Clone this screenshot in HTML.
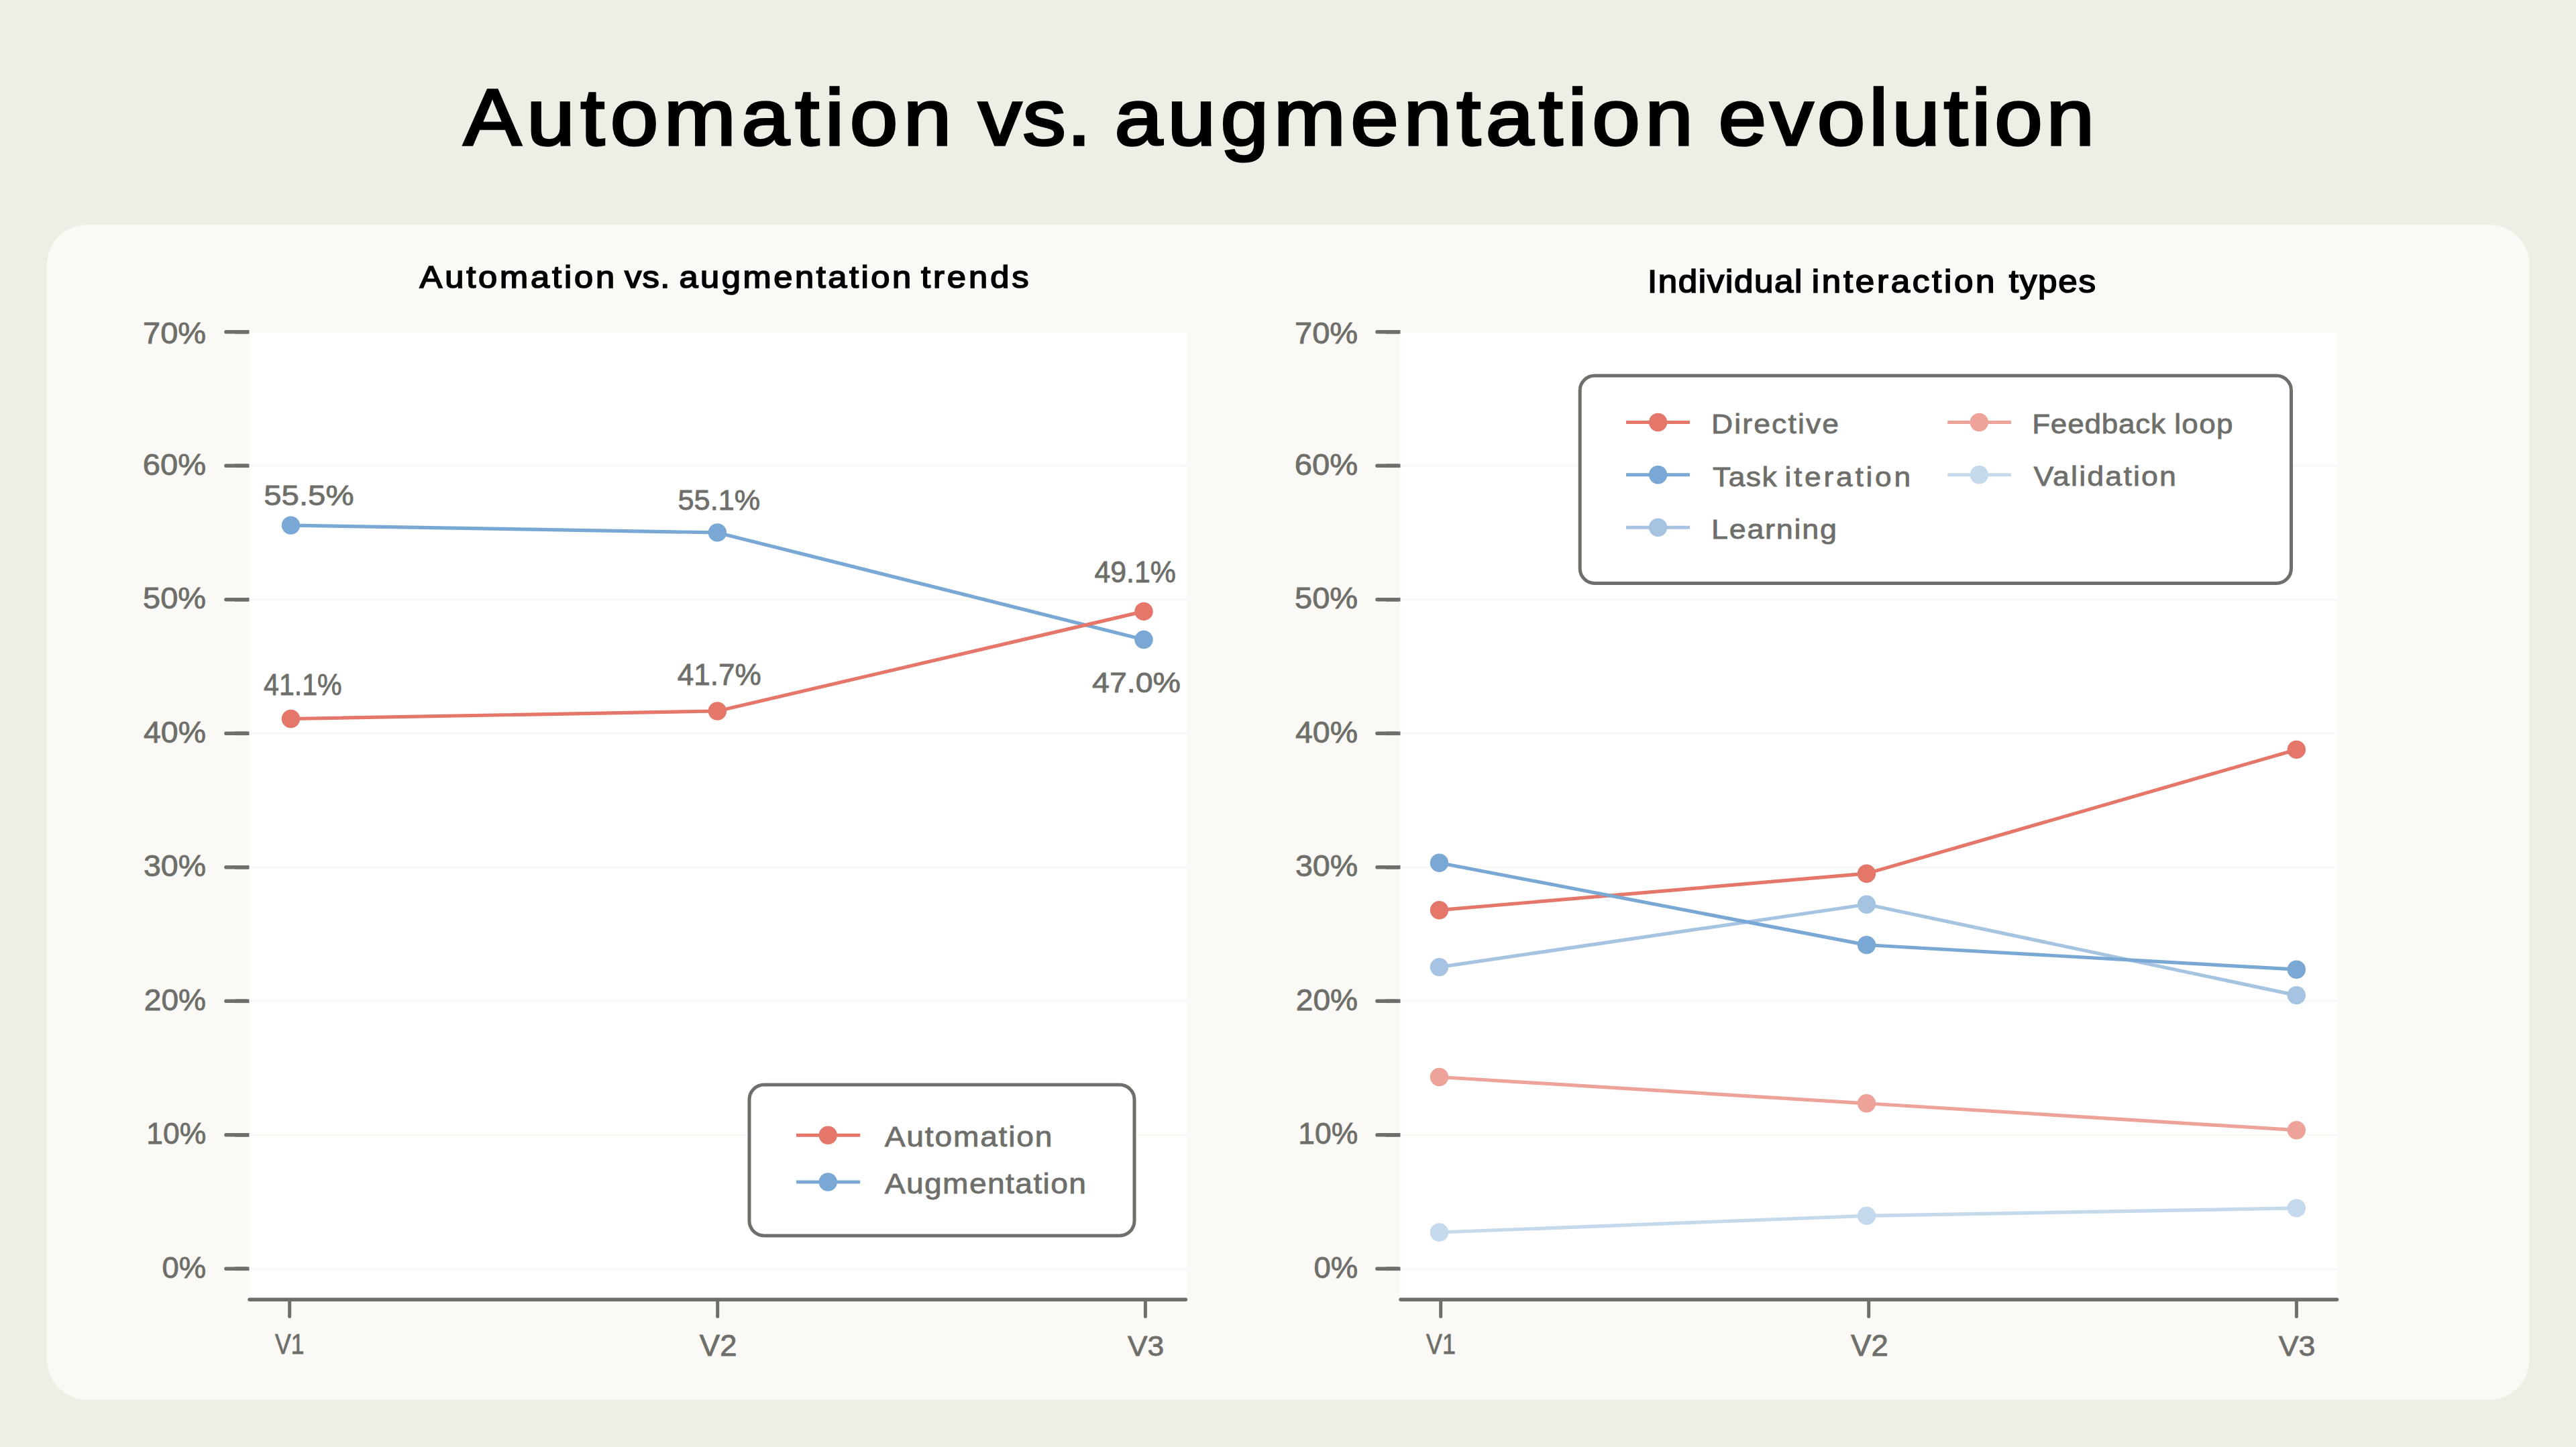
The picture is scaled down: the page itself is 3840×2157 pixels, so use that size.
<!DOCTYPE html><html><head><meta charset="utf-8"><style>html,body{margin:0;padding:0;background:#EEEDE6;width:3840px;height:2157px;overflow:hidden}svg{display:block}text{font-family:"Liberation Sans",sans-serif;font-weight:400}</style></head><body>
<svg width="3840" height="2157" viewBox="0 0 3840 2157">
<rect x="70" y="335" width="3700.5" height="1751.5" rx="60" ry="60" fill="#FAF9F5"/>
<rect x="372" y="496" width="1397" height="1438" fill="#FFFFFF"/>
<line x1="372" y1="694.3" x2="1769" y2="694.3" stroke="#F9F8F4" stroke-width="3.2"/>
<line x1="372" y1="893.8" x2="1769" y2="893.8" stroke="#F9F8F4" stroke-width="3.2"/>
<line x1="372" y1="1093.3" x2="1769" y2="1093.3" stroke="#F9F8F4" stroke-width="3.2"/>
<line x1="372" y1="1292.8" x2="1769" y2="1292.8" stroke="#F9F8F4" stroke-width="3.2"/>
<line x1="372" y1="1492.3" x2="1769" y2="1492.3" stroke="#F9F8F4" stroke-width="3.2"/>
<line x1="372" y1="1691.8" x2="1769" y2="1691.8" stroke="#F9F8F4" stroke-width="3.2"/>
<line x1="372" y1="1891.3" x2="1769" y2="1891.3" stroke="#F9F8F4" stroke-width="3.2"/>
<rect x="2087.0" y="496" width="1397" height="1438" fill="#FFFFFF"/>
<line x1="2087.0" y1="694.3" x2="3484.0" y2="694.3" stroke="#F9F8F4" stroke-width="3.2"/>
<line x1="2087.0" y1="893.8" x2="3484.0" y2="893.8" stroke="#F9F8F4" stroke-width="3.2"/>
<line x1="2087.0" y1="1093.3" x2="3484.0" y2="1093.3" stroke="#F9F8F4" stroke-width="3.2"/>
<line x1="2087.0" y1="1292.8" x2="3484.0" y2="1292.8" stroke="#F9F8F4" stroke-width="3.2"/>
<line x1="2087.0" y1="1492.3" x2="3484.0" y2="1492.3" stroke="#F9F8F4" stroke-width="3.2"/>
<line x1="2087.0" y1="1691.8" x2="3484.0" y2="1691.8" stroke="#F9F8F4" stroke-width="3.2"/>
<line x1="2087.0" y1="1891.3" x2="3484.0" y2="1891.3" stroke="#F9F8F4" stroke-width="3.2"/>
<line x1="337" y1="494.8" x2="368" y2="494.8" stroke="#6E6E6A" stroke-width="5.6" stroke-linecap="round"/>
<line x1="350" y1="494.8" x2="371.5" y2="494.8" stroke="#6E6E6A" stroke-width="5.6"/>
<line x1="337" y1="694.3" x2="368" y2="694.3" stroke="#6E6E6A" stroke-width="5.6" stroke-linecap="round"/>
<line x1="350" y1="694.3" x2="371.5" y2="694.3" stroke="#6E6E6A" stroke-width="5.6"/>
<line x1="337" y1="893.8" x2="368" y2="893.8" stroke="#6E6E6A" stroke-width="5.6" stroke-linecap="round"/>
<line x1="350" y1="893.8" x2="371.5" y2="893.8" stroke="#6E6E6A" stroke-width="5.6"/>
<line x1="337" y1="1093.3" x2="368" y2="1093.3" stroke="#6E6E6A" stroke-width="5.6" stroke-linecap="round"/>
<line x1="350" y1="1093.3" x2="371.5" y2="1093.3" stroke="#6E6E6A" stroke-width="5.6"/>
<line x1="337" y1="1292.8" x2="368" y2="1292.8" stroke="#6E6E6A" stroke-width="5.6" stroke-linecap="round"/>
<line x1="350" y1="1292.8" x2="371.5" y2="1292.8" stroke="#6E6E6A" stroke-width="5.6"/>
<line x1="337" y1="1492.3" x2="368" y2="1492.3" stroke="#6E6E6A" stroke-width="5.6" stroke-linecap="round"/>
<line x1="350" y1="1492.3" x2="371.5" y2="1492.3" stroke="#6E6E6A" stroke-width="5.6"/>
<line x1="337" y1="1691.8" x2="368" y2="1691.8" stroke="#6E6E6A" stroke-width="5.6" stroke-linecap="round"/>
<line x1="350" y1="1691.8" x2="371.5" y2="1691.8" stroke="#6E6E6A" stroke-width="5.6"/>
<line x1="337" y1="1891.3" x2="368" y2="1891.3" stroke="#6E6E6A" stroke-width="5.6" stroke-linecap="round"/>
<line x1="350" y1="1891.3" x2="371.5" y2="1891.3" stroke="#6E6E6A" stroke-width="5.6"/>
<line x1="372" y1="1937.2" x2="1767.5" y2="1937.2" stroke="#6E6E6A" stroke-width="5.4" stroke-linecap="round"/>
<line x1="431.7" y1="1940" x2="431.7" y2="1962.5" stroke="#6E6E6A" stroke-width="5" stroke-linecap="round"/>
<line x1="1069.7" y1="1940" x2="1069.7" y2="1962.5" stroke="#6E6E6A" stroke-width="5" stroke-linecap="round"/>
<line x1="1707.4" y1="1940" x2="1707.4" y2="1962.5" stroke="#6E6E6A" stroke-width="5" stroke-linecap="round"/>
<line x1="2053.0" y1="494.8" x2="2084.0" y2="494.8" stroke="#6E6E6A" stroke-width="5.6" stroke-linecap="round"/>
<line x1="2066.0" y1="494.8" x2="2087.5" y2="494.8" stroke="#6E6E6A" stroke-width="5.6"/>
<line x1="2053.0" y1="694.3" x2="2084.0" y2="694.3" stroke="#6E6E6A" stroke-width="5.6" stroke-linecap="round"/>
<line x1="2066.0" y1="694.3" x2="2087.5" y2="694.3" stroke="#6E6E6A" stroke-width="5.6"/>
<line x1="2053.0" y1="893.8" x2="2084.0" y2="893.8" stroke="#6E6E6A" stroke-width="5.6" stroke-linecap="round"/>
<line x1="2066.0" y1="893.8" x2="2087.5" y2="893.8" stroke="#6E6E6A" stroke-width="5.6"/>
<line x1="2053.0" y1="1093.3" x2="2084.0" y2="1093.3" stroke="#6E6E6A" stroke-width="5.6" stroke-linecap="round"/>
<line x1="2066.0" y1="1093.3" x2="2087.5" y2="1093.3" stroke="#6E6E6A" stroke-width="5.6"/>
<line x1="2053.0" y1="1292.8" x2="2084.0" y2="1292.8" stroke="#6E6E6A" stroke-width="5.6" stroke-linecap="round"/>
<line x1="2066.0" y1="1292.8" x2="2087.5" y2="1292.8" stroke="#6E6E6A" stroke-width="5.6"/>
<line x1="2053.0" y1="1492.3" x2="2084.0" y2="1492.3" stroke="#6E6E6A" stroke-width="5.6" stroke-linecap="round"/>
<line x1="2066.0" y1="1492.3" x2="2087.5" y2="1492.3" stroke="#6E6E6A" stroke-width="5.6"/>
<line x1="2053.0" y1="1691.8" x2="2084.0" y2="1691.8" stroke="#6E6E6A" stroke-width="5.6" stroke-linecap="round"/>
<line x1="2066.0" y1="1691.8" x2="2087.5" y2="1691.8" stroke="#6E6E6A" stroke-width="5.6"/>
<line x1="2053.0" y1="1891.3" x2="2084.0" y2="1891.3" stroke="#6E6E6A" stroke-width="5.6" stroke-linecap="round"/>
<line x1="2066.0" y1="1891.3" x2="2087.5" y2="1891.3" stroke="#6E6E6A" stroke-width="5.6"/>
<line x1="2088.0" y1="1937.2" x2="3483.5" y2="1937.2" stroke="#6E6E6A" stroke-width="5.4" stroke-linecap="round"/>
<line x1="2147.7" y1="1940" x2="2147.7" y2="1962.5" stroke="#6E6E6A" stroke-width="5" stroke-linecap="round"/>
<line x1="2785.7" y1="1940" x2="2785.7" y2="1962.5" stroke="#6E6E6A" stroke-width="5" stroke-linecap="round"/>
<line x1="3423.4" y1="1940" x2="3423.4" y2="1962.5" stroke="#6E6E6A" stroke-width="5" stroke-linecap="round"/>
<polyline points="433.5,783.1 1069.4,793.9 1705.0,953.5" fill="none" stroke="#7AA8D5" stroke-width="5.2" stroke-linejoin="round"/><circle cx="433.5" cy="783.1" r="13.7" fill="#7AA8D5"/><circle cx="1069.4" cy="793.9" r="13.7" fill="#7AA8D5"/><circle cx="1705.0" cy="953.5" r="13.7" fill="#7AA8D5"/>
<polyline points="433.5,1071.5 1069.4,1060.0 1705.0,911.4" fill="none" stroke="#E5766A" stroke-width="5.2" stroke-linejoin="round"/><circle cx="433.5" cy="1071.5" r="13.7" fill="#E5766A"/><circle cx="1069.4" cy="1060.0" r="13.7" fill="#E5766A"/><circle cx="1705.0" cy="911.4" r="13.7" fill="#E5766A"/>
<polyline points="2145.5,1356.7 2782.5,1302.2 3423.3,1117.4" fill="none" stroke="#E5766A" stroke-width="5.2" stroke-linejoin="round"/><circle cx="2145.5" cy="1356.7" r="13.7" fill="#E5766A"/><circle cx="2782.5" cy="1302.2" r="13.7" fill="#E5766A"/><circle cx="3423.3" cy="1117.4" r="13.7" fill="#E5766A"/>
<polyline points="2145.5,1605.5 2782.5,1644.8 3423.3,1684.7" fill="none" stroke="#EDA39A" stroke-width="5.2" stroke-linejoin="round"/><circle cx="2145.5" cy="1605.5" r="13.7" fill="#EDA39A"/><circle cx="2782.5" cy="1644.8" r="13.7" fill="#EDA39A"/><circle cx="3423.3" cy="1684.7" r="13.7" fill="#EDA39A"/>
<polyline points="2145.5,1441.6 2782.5,1348.2 3423.3,1483.6" fill="none" stroke="#A6C4E2" stroke-width="5.2" stroke-linejoin="round"/><circle cx="2145.5" cy="1441.6" r="13.7" fill="#A6C4E2"/><circle cx="2782.5" cy="1348.2" r="13.7" fill="#A6C4E2"/><circle cx="3423.3" cy="1483.6" r="13.7" fill="#A6C4E2"/>
<polyline points="2145.5,1837.0 2782.5,1812.4 3423.3,1800.9" fill="none" stroke="#C4D9EC" stroke-width="5.2" stroke-linejoin="round"/><circle cx="2145.5" cy="1837.0" r="13.7" fill="#C4D9EC"/><circle cx="2782.5" cy="1812.4" r="13.7" fill="#C4D9EC"/><circle cx="3423.3" cy="1800.9" r="13.7" fill="#C4D9EC"/>
<polyline points="2145.5,1286.2 2782.5,1408.6 3423.3,1445.2" fill="none" stroke="#7AA8D5" stroke-width="5.2" stroke-linejoin="round"/><circle cx="2145.5" cy="1286.2" r="13.7" fill="#7AA8D5"/><circle cx="2782.5" cy="1408.6" r="13.7" fill="#7AA8D5"/><circle cx="3423.3" cy="1445.2" r="13.7" fill="#7AA8D5"/>
<rect x="1117" y="1617" width="574" height="225" rx="22" ry="22" fill="#FFFFFF" stroke="#6E6E6A" stroke-width="5"/>
<rect x="2355.2" y="560" width="1060.3" height="309.5" rx="22" ry="22" fill="#FFFFFF" stroke="#6E6E6A" stroke-width="5"/>
<line x1="1187" y1="1692.2" x2="1282.2" y2="1692.2" stroke="#E5766A" stroke-width="5"/><circle cx="1234.3" cy="1692.2" r="13.7" fill="#E5766A"/>
<line x1="1187" y1="1762.0" x2="1282.2" y2="1762.0" stroke="#7AA8D5" stroke-width="5"/><circle cx="1234.3" cy="1762.0" r="13.7" fill="#7AA8D5"/>
<line x1="2424" y1="629.5" x2="2519" y2="629.5" stroke="#E5766A" stroke-width="5"/><circle cx="2471.6" cy="629.5" r="13.7" fill="#E5766A"/>
<line x1="2424" y1="707.7" x2="2519" y2="707.7" stroke="#7AA8D5" stroke-width="5"/><circle cx="2471.6" cy="707.7" r="13.7" fill="#7AA8D5"/>
<line x1="2424" y1="786.2" x2="2519" y2="786.2" stroke="#A6C4E2" stroke-width="5"/><circle cx="2471.6" cy="786.2" r="13.7" fill="#A6C4E2"/>
<line x1="2903.2" y1="629.5" x2="2997.9" y2="629.5" stroke="#EDA39A" stroke-width="5"/><circle cx="2950.3" cy="629.5" r="13.7" fill="#EDA39A"/>
<line x1="2903.2" y1="707.7" x2="2997.9" y2="707.7" stroke="#C4D9EC" stroke-width="5"/><circle cx="2950.3" cy="707.7" r="13.7" fill="#C4D9EC"/>
<g transform="matrix(1.08,0,0,1,-55.28,0)"><text x="691.00" y="216.00" font-size="119.14" fill="#000000" stroke="#000000" stroke-width="3.6" textLength="673.53" lengthAdjust="spacing">Automation</text></g>
<g transform="matrix(1.08,0,0,1,-116.69,0)"><text x="1458.60" y="216.00" font-size="119.14" fill="#000000" stroke="#000000" stroke-width="3.6" textLength="155.23" lengthAdjust="spacing">vs.</text></g>
<g transform="matrix(1.08,0,0,1,-132.91,0)"><text x="1661.40" y="216.00" font-size="119.14" fill="#000000" stroke="#000000" stroke-width="3.6" textLength="798.61" lengthAdjust="spacing">augmentation</text></g>
<g transform="matrix(1.08,0,0,1,-204.93,0)"><text x="2561.60" y="216.00" font-size="119.14" fill="#000000" stroke="#000000" stroke-width="3.6" textLength="519.03" lengthAdjust="spacing">evolution</text></g>
<g transform="matrix(1.08,0,0,1,-50.05,0)"><text x="625.60" y="429.20" font-size="46.91" fill="#000000" stroke="#000000" stroke-width="1.7" textLength="269.08" lengthAdjust="spacing">Automation</text></g>
<g transform="matrix(1.08,0,0,1,-74.48,0)"><text x="931.00" y="429.20" font-size="46.91" fill="#000000" stroke="#000000" stroke-width="1.7" textLength="62.29" lengthAdjust="spacing">vs.</text></g>
<g transform="matrix(1.08,0,0,1,-80.99,0)"><text x="1012.40" y="429.20" font-size="46.91" fill="#000000" stroke="#000000" stroke-width="1.7" textLength="320.22" lengthAdjust="spacing">augmentation</text></g>
<g transform="matrix(1.08,0,0,1,-109.84,0)"><text x="1373.00" y="429.20" font-size="46.91" fill="#000000" stroke="#000000" stroke-width="1.7" textLength="148.71" lengthAdjust="spacing">trends</text></g>
<g transform="matrix(1.08,0,0,1,-196.48,0)"><text x="2456.00" y="436.00" font-size="47.31" fill="#000000" stroke="#000000" stroke-width="1.7" textLength="213.29" lengthAdjust="spacing">Individual</text></g>
<g transform="matrix(1.08,0,0,1,-216.06,0)"><text x="2700.80" y="436.00" font-size="47.31" fill="#000000" stroke="#000000" stroke-width="1.7" textLength="252.48" lengthAdjust="spacing">interaction</text></g>
<g transform="matrix(1.08,0,0,1,-239.58,0)"><text x="2994.80" y="436.00" font-size="47.31" fill="#000000" stroke="#000000" stroke-width="1.7" textLength="119.63" lengthAdjust="spacing">types</text></g>
<g transform="matrix(1.08,0,0,1,-105.50,0)"><text x="1318.80" y="1709.50" font-size="42.76" fill="#6E6E6A" stroke="#6E6E6A" stroke-width="0.8" textLength="231.12" lengthAdjust="spacing">Automation</text></g>
<g transform="matrix(1.08,0,0,1,-105.50,0)"><text x="1318.80" y="1779.30" font-size="42.76" fill="#6E6E6A" stroke="#6E6E6A" stroke-width="0.8" textLength="277.97" lengthAdjust="spacing">Augmentation</text></g>
<g transform="matrix(1.08,0,0,1,-204.08,0)"><text x="2551.00" y="646.10" font-size="41.13" fill="#6E6E6A" stroke="#6E6E6A" stroke-width="0.8" textLength="175.98" lengthAdjust="spacing">Directive</text></g>
<g transform="matrix(1.08,0,0,1,-204.24,0)"><text x="2553.00" y="724.80" font-size="40.99" fill="#6E6E6A" stroke="#6E6E6A" stroke-width="0.8" textLength="88.52" lengthAdjust="spacing">Task</text></g>
<g transform="matrix(1.08,0,0,1,-212.83,0)"><text x="2660.40" y="724.80" font-size="40.99" fill="#6E6E6A" stroke="#6E6E6A" stroke-width="0.8" textLength="173.80" lengthAdjust="spacing">iteration</text></g>
<g transform="matrix(1.08,0,0,1,-204.08,0)"><text x="2551.00" y="803.20" font-size="41.53" fill="#6E6E6A" stroke="#6E6E6A" stroke-width="0.8" textLength="173.07" lengthAdjust="spacing">Learning</text></g>
<g transform="matrix(1.08,0,0,1,-242.34,0)"><text x="3029.20" y="645.80" font-size="40.72" fill="#6E6E6A" stroke="#6E6E6A" stroke-width="0.8" textLength="184.09" lengthAdjust="spacing">Feedback</text></g>
<g transform="matrix(1.08,0,0,1,-259.30,0)"><text x="3241.20" y="645.80" font-size="40.72" fill="#6E6E6A" stroke="#6E6E6A" stroke-width="0.8" textLength="80.82" lengthAdjust="spacing">loop</text></g>
<g transform="matrix(1.08,0,0,1,-242.51,0)"><text x="3031.40" y="724.10" font-size="41.40" fill="#6E6E6A" stroke="#6E6E6A" stroke-width="0.8" textLength="196.86" lengthAdjust="spacing">Validation</text></g>
<text x="393.20" y="753.00" font-size="43.02" fill="#6E6E6A" stroke="#6E6E6A" stroke-width="0.8" textLength="134.46" lengthAdjust="spacingAndGlyphs">55.5%</text>
<text x="1010.60" y="760.00" font-size="43.17" fill="#6E6E6A" stroke="#6E6E6A" stroke-width="0.8" textLength="122.50" lengthAdjust="spacingAndGlyphs">55.1%</text>
<text x="393.00" y="1035.80" font-size="44.04" fill="#6E6E6A" stroke="#6E6E6A" stroke-width="0.8" textLength="116.66" lengthAdjust="spacingAndGlyphs">41.1%</text>
<text x="1009.80" y="1021.40" font-size="43.90" fill="#6E6E6A" stroke="#6E6E6A" stroke-width="0.8" textLength="125.04" lengthAdjust="spacingAndGlyphs">41.7%</text>
<text x="1631.40" y="868.00" font-size="43.90" fill="#6E6E6A" stroke="#6E6E6A" stroke-width="0.8" textLength="121.44" lengthAdjust="spacingAndGlyphs">49.1%</text>
<text x="1628.00" y="1031.60" font-size="42.44" fill="#6E6E6A" stroke="#6E6E6A" stroke-width="0.8" textLength="132.01" lengthAdjust="spacingAndGlyphs">47.0%</text>
<text x="410.00" y="2018.00" font-size="42.44" fill="#6E6E6A" stroke="#6E6E6A" stroke-width="0.8" textLength="43.62" lengthAdjust="spacingAndGlyphs">V1</text>
<text x="1042.80" y="2021.30" font-size="43.60" fill="#6E6E6A" stroke="#6E6E6A" stroke-width="0.8" textLength="55.67" lengthAdjust="spacingAndGlyphs">V2</text>
<text x="1681.00" y="2021.30" font-size="43.17" fill="#6E6E6A" stroke="#6E6E6A" stroke-width="0.8" textLength="54.24" lengthAdjust="spacingAndGlyphs">V3</text>
<text x="2126.00" y="2018.00" font-size="42.44" fill="#6E6E6A" stroke="#6E6E6A" stroke-width="0.8" textLength="43.85" lengthAdjust="spacingAndGlyphs">V1</text>
<text x="2759.00" y="2021.30" font-size="43.60" fill="#6E6E6A" stroke="#6E6E6A" stroke-width="0.8" textLength="55.72" lengthAdjust="spacingAndGlyphs">V2</text>
<text x="3396.80" y="2021.30" font-size="43.17" fill="#6E6E6A" stroke="#6E6E6A" stroke-width="0.8" textLength="54.69" lengthAdjust="spacingAndGlyphs">V3</text>
<text x="213.00" y="511.80" font-size="43.60" fill="#6E6E6A" stroke="#6E6E6A" stroke-width="0.8" textLength="94.16" lengthAdjust="spacingAndGlyphs">70%</text>
<text x="212.80" y="707.80" font-size="43.60" fill="#6E6E6A" stroke="#6E6E6A" stroke-width="0.8" textLength="94.31" lengthAdjust="spacingAndGlyphs">60%</text>
<text x="213.00" y="907.30" font-size="43.60" fill="#6E6E6A" stroke="#6E6E6A" stroke-width="0.8" textLength="94.06" lengthAdjust="spacingAndGlyphs">50%</text>
<text x="214.00" y="1106.80" font-size="43.60" fill="#6E6E6A" stroke="#6E6E6A" stroke-width="0.8" textLength="93.01" lengthAdjust="spacingAndGlyphs">40%</text>
<text x="214.00" y="1306.30" font-size="43.60" fill="#6E6E6A" stroke="#6E6E6A" stroke-width="0.8" textLength="93.13" lengthAdjust="spacingAndGlyphs">30%</text>
<text x="214.80" y="1505.80" font-size="43.60" fill="#6E6E6A" stroke="#6E6E6A" stroke-width="0.8" textLength="92.28" lengthAdjust="spacingAndGlyphs">20%</text>
<text x="218.20" y="1705.30" font-size="43.60" fill="#6E6E6A" stroke="#6E6E6A" stroke-width="0.8" textLength="88.99" lengthAdjust="spacingAndGlyphs">10%</text>
<text x="241.40" y="1904.80" font-size="43.60" fill="#6E6E6A" stroke="#6E6E6A" stroke-width="0.8" textLength="65.67" lengthAdjust="spacingAndGlyphs">0%</text>
<text x="1930.00" y="511.80" font-size="43.60" fill="#6E6E6A" stroke="#6E6E6A" stroke-width="0.8" textLength="94.16" lengthAdjust="spacingAndGlyphs">70%</text>
<text x="1929.80" y="707.80" font-size="43.60" fill="#6E6E6A" stroke="#6E6E6A" stroke-width="0.8" textLength="94.31" lengthAdjust="spacingAndGlyphs">60%</text>
<text x="1930.00" y="907.30" font-size="43.60" fill="#6E6E6A" stroke="#6E6E6A" stroke-width="0.8" textLength="94.06" lengthAdjust="spacingAndGlyphs">50%</text>
<text x="1931.00" y="1106.80" font-size="43.60" fill="#6E6E6A" stroke="#6E6E6A" stroke-width="0.8" textLength="93.01" lengthAdjust="spacingAndGlyphs">40%</text>
<text x="1931.00" y="1306.30" font-size="43.60" fill="#6E6E6A" stroke="#6E6E6A" stroke-width="0.8" textLength="93.13" lengthAdjust="spacingAndGlyphs">30%</text>
<text x="1931.80" y="1505.80" font-size="43.60" fill="#6E6E6A" stroke="#6E6E6A" stroke-width="0.8" textLength="92.28" lengthAdjust="spacingAndGlyphs">20%</text>
<text x="1935.20" y="1705.30" font-size="43.60" fill="#6E6E6A" stroke="#6E6E6A" stroke-width="0.8" textLength="88.99" lengthAdjust="spacingAndGlyphs">10%</text>
<text x="1958.40" y="1904.80" font-size="43.60" fill="#6E6E6A" stroke="#6E6E6A" stroke-width="0.8" textLength="65.67" lengthAdjust="spacingAndGlyphs">0%</text>
</svg></body></html>
